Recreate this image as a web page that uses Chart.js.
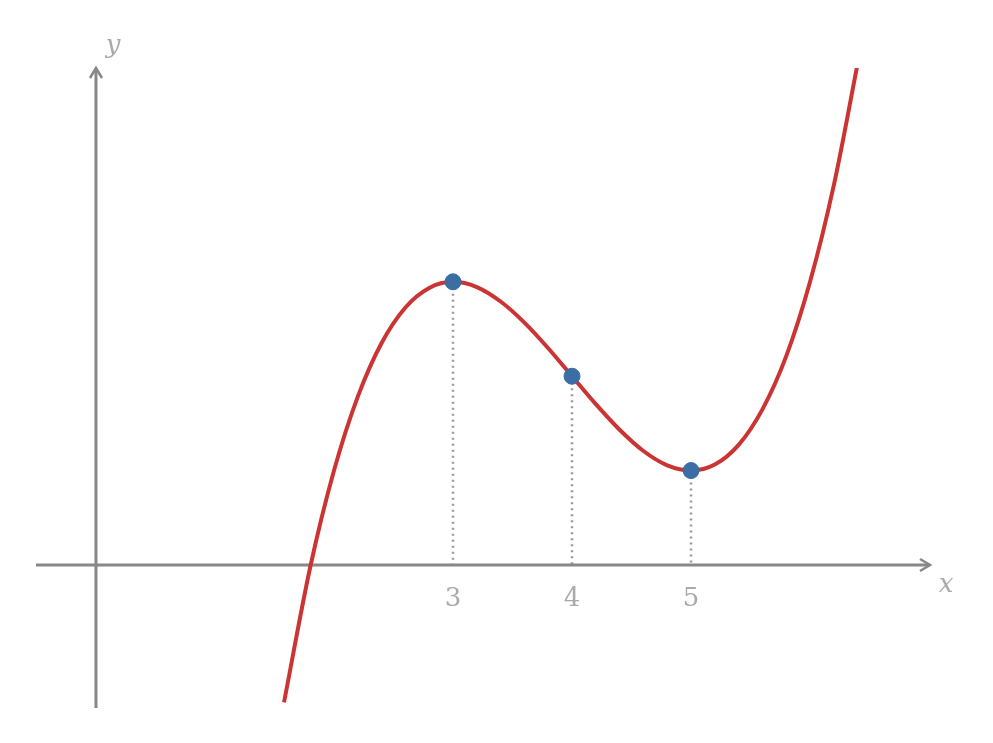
<!DOCTYPE html>
<html><head><meta charset="utf-8">
<script src="https://cdn.jsdelivr.net/npm/chart.js@4/dist/chart.umd.min.js"></script>
<style>html,body{margin:0;padding:0;background:#fff}</style>
</head><body>
<canvas id="c" width="993" height="743"></canvas>
<script>
const curveX = [1.58,1.8,2.0,2.2,2.4,2.6,2.8,3.0,3.2,3.4,3.6,3.8,4.0,4.2,4.4,4.6,4.8,5.0,5.2,5.4,5.6,5.8,6.0,6.2,6.4];
const curveY = [-0.97,-0.016,0.667,1.189,1.568,1.819,1.957,2.0,1.963,1.861,1.712,1.531,1.333,1.136,0.955,0.805,0.704,0.667,0.709,0.848,1.099,1.475,2.0,2.683,3.541];
const markX = [3,4,5];
const markY = [2.0,1.333,0.667];
const tickLabels = ['3','4','5'];

const axesPlugin = {
  id:'axes',
  beforeDatasetsDraw(chart){
    const ctx=chart.ctx, xs=chart.scales.x, ys=chart.scales.y, a=chart.chartArea;
    const x0=xs.getPixelForValue(0), y0=ys.getPixelForValue(0);
    ctx.save();
    // dotted guides
    ctx.strokeStyle='#999';ctx.lineWidth=2.5;ctx.setLineDash([2,4]);
    markX.forEach((v,i)=>{const px=xs.getPixelForValue(v);ctx.beginPath();ctx.moveTo(px,ys.getPixelForValue(markY[i]));ctx.lineTo(px,y0);ctx.stroke();});
    ctx.setLineDash([]);
    ctx.strokeStyle='#888';ctx.lineWidth=3;
    ctx.beginPath();ctx.moveTo(a.left,y0);ctx.lineTo(a.right,y0);ctx.stroke();
    ctx.beginPath();ctx.moveTo(x0,a.bottom);ctx.lineTo(x0,a.top);ctx.stroke();
    ctx.lineWidth=2.5;
    ctx.beginPath();ctx.moveTo(a.right-10,y0-6);ctx.lineTo(a.right,y0);ctx.lineTo(a.right-10,y0+6);ctx.stroke();
    ctx.beginPath();ctx.moveTo(x0-6,a.top+10);ctx.lineTo(x0,a.top);ctx.lineTo(x0+6,a.top+10);ctx.stroke();
    ctx.fillStyle='#aaa';ctx.font='26px "DejaVu Serif"';ctx.textAlign='center';ctx.textBaseline='middle';
    markX.forEach((v,i)=>ctx.fillText(tickLabels[i],xs.getPixelForValue(v),y0+34));
    ctx.font='italic 26px "DejaVu Serif"';
    ctx.fillText('x',a.right+16,y0+20);
    ctx.fillText('y',x0+17,a.top-22);
    ctx.restore();
  }
};

new Chart(document.getElementById('c'),{
  type:'scatter',
  data:{datasets:[
    {data:markX.map((x,i)=>({x,y:markY[i]})),backgroundColor:'#3a6ea5',borderColor:'#3a6ea5',pointRadius:8,pointHoverRadius:8},
    {type:'line',data:curveX.map((x,i)=>({x,y:curveY[i]})),borderColor:'#cc3333',borderWidth:4,pointRadius:0,cubicInterpolationMode:'monotone',fill:false}
  ]},
  options:{responsive:false,animation:false,
    layout:{padding:{left:36,right:63,top:68,bottom:35}},
    plugins:{legend:{display:false},tooltip:{enabled:false}},
    scales:{x:{type:'linear',min:-0.504,max:7.008,display:false},y:{min:-1.01,max:3.51,display:false}}
  },
  plugins:[axesPlugin]
});
</script>
</body></html>
